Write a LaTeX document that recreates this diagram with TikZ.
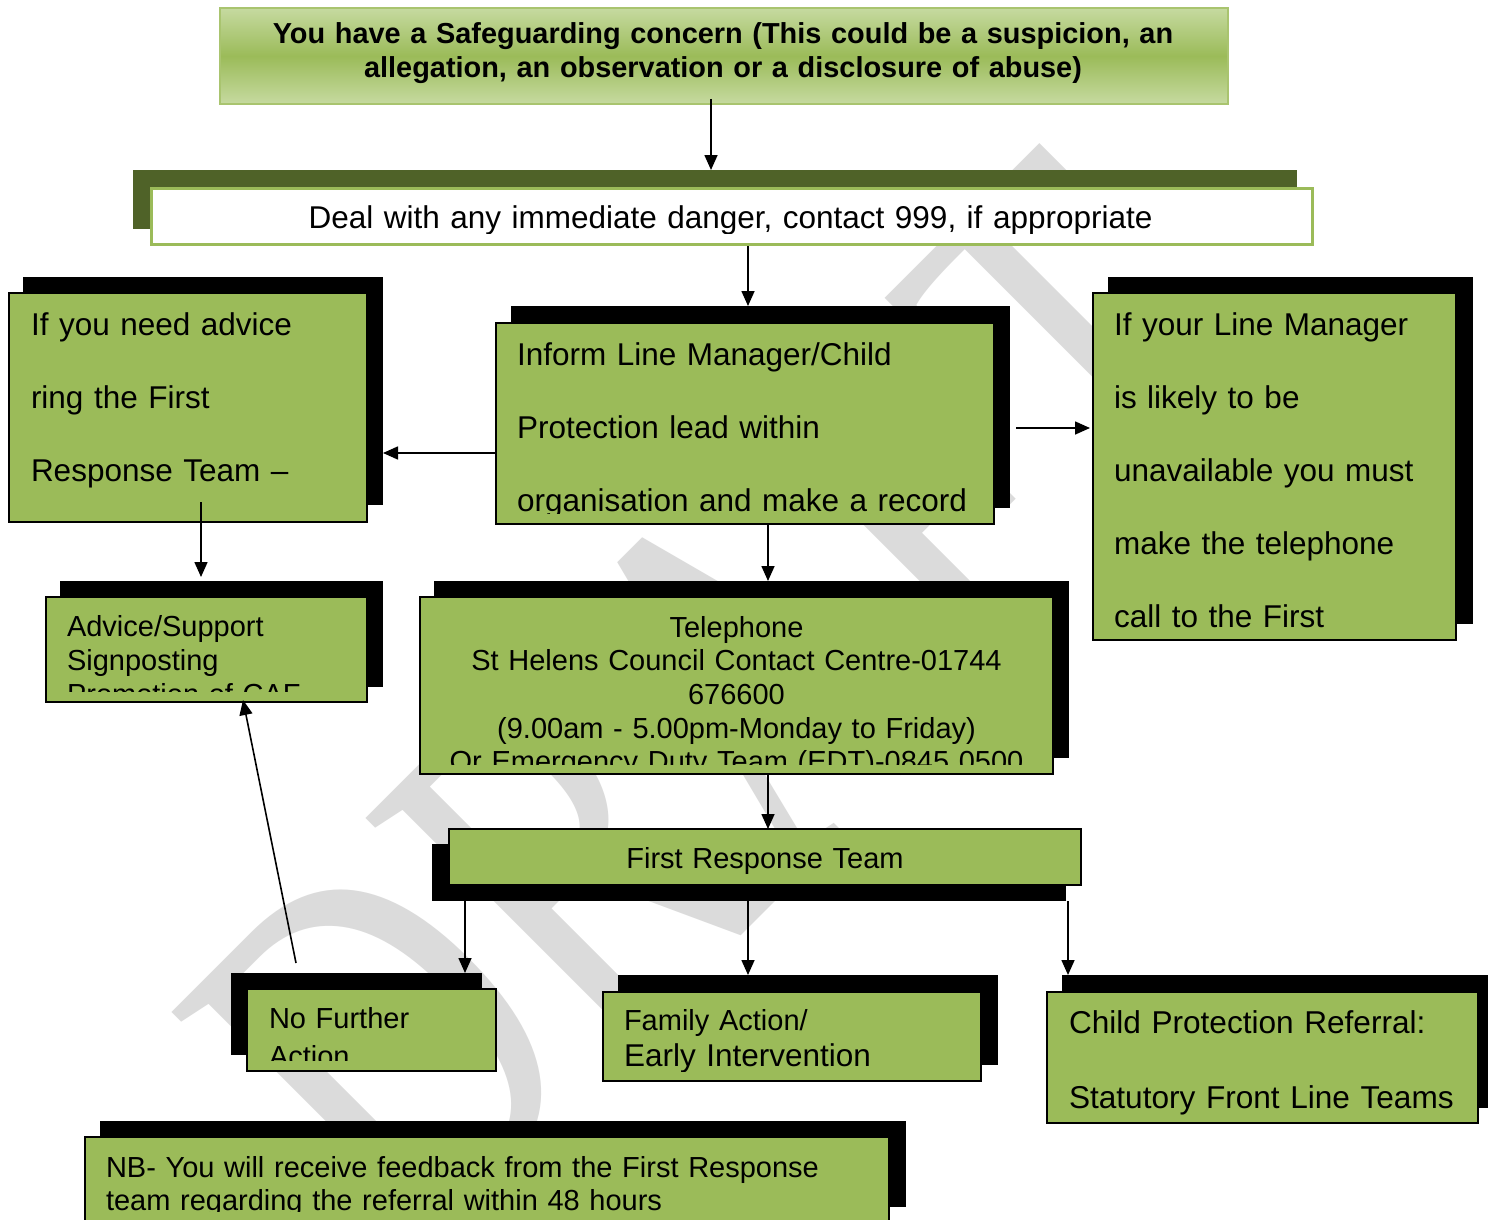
\documentclass[tikz,border=0pt]{standalone}
\usepackage{fontspec}
\setmainfont{Liberation Sans}
\newfontfamily\wmserif{Liberation Serif}
\usetikzlibrary{arrows.meta}
\definecolor{leaf}{HTML}{9BBB59}
\definecolor{leaflight}{HTML}{C6DAA0}
\definecolor{leafedge}{HTML}{A9C46F}
\definecolor{olive}{HTML}{4F6228}
\definecolor{wmgray}{HTML}{DBDBDB}

\tikzset{
  sbox/.style={fill=black, draw=none, anchor=north west, inner sep=0pt, outer sep=0pt},
  gbox/.style={fill=leaf, draw=black, line width=2.5pt, anchor=north west, inner sep=0pt, outer sep=0pt},
  txtl/.style={anchor=base west, inner sep=0pt, outer sep=0pt, align=left},
  txtc/.style={anchor=base, inner sep=0pt, outer sep=0pt, align=center},
  big/.style={font=\fontsize{31.5}{73}\selectfont},
  small/.style={font=\fontsize{29}{33.7}\selectfont},
  arr/.style={-{Triangle[length=15pt,width=13pt]}, line width=1.6pt}
}

\begin{document}
\begin{tikzpicture}[x=1pt,y=-1pt]
\useasboundingbox (0,0) rectangle (1488,1220);
\fill[white] (0,0) rectangle (1488,1220);

% watermark behind everything
\begin{scope}[shift={(727,702)}, rotate=45, transform shape]
  \node[yscale=1.4, text=wmgray, inner sep=0pt,
        font=\wmserif\fontsize{380}{380}\selectfont] (wm) at (0,0) {DRAFT};
\end{scope}

% top concern box
\node[anchor=north west, inner sep=0pt, minimum width=1008pt, minimum height=96pt,
      draw=leafedge, line width=2pt, top color=leaflight, bottom color=leaflight,
      middle color=leaf] (concern) at (219,7) {};
\node[txtc, text width=1008pt, font=\bfseries\fontsize{28.9}{34}\selectfont] (concernTxt) at (723,44)
  {You have a Safeguarding concern (This could be a suspicion, an\\allegation, an observation or a disclosure of abuse)};

% immediate danger banner
\node[anchor=north west, inner sep=0pt, fill=olive, minimum width=1164pt, minimum height=59pt] (dealS) at (133,170) {};
\node[anchor=north west, inner sep=0pt, fill=white, draw=leaf, line width=3pt,
      minimum width=1161pt, minimum height=56pt] (deal) at (150,187) {};
\begin{scope}
  \clip (150,187) rectangle (1311,233);
  \node[txtc, text width=1161pt, font=\fontsize{31.5}{36}\selectfont] (dealTxt) at (730.5,228)
    {Deal with any immediate danger, contact 999, if appropriate};
\end{scope}

% advice line (left)
\node[sbox, minimum width=360pt, minimum height=228pt] (leftS) at (23,277) {};
\node[gbox, minimum width=358pt, minimum height=229pt] (left) at (9,293) {};
\begin{scope}
  \clip (9,293) rectangle (367,514);
  \node[txtl, big, text width=330pt] (leftTxt) at (31,335)
    {If you need advice\\ring the First\\Response Team --};
\end{scope}

% inform line manager (centre)
\node[sbox, minimum width=499pt, minimum height=202pt] (informS) at (511,306) {};
\node[gbox, minimum width=498pt, minimum height=201pt] (inform) at (496,323) {};
\begin{scope}
  \clip (496,323) rectangle (994,513.5);
  \node[txtl, big, text width=470pt] (informTxt) at (517,365)
    {Inform Line Manager/Child\\Protection lead within\\organisation and make a record};
\end{scope}

% line manager unavailable (right)
\node[sbox, minimum width=365pt, minimum height=347pt] (rightS) at (1108,277) {};
\node[gbox, minimum width=363pt, minimum height=347pt] (right) at (1093,293) {};
\begin{scope}
  \clip (1093,293) rectangle (1456,633);
  \node[txtl, big, text width=340pt] (rightTxt) at (1114,335)
    {If your Line Manager\\is likely to be\\unavailable you must\\make the telephone\\call to the First};
\end{scope}

% advice / support
\node[sbox, minimum width=323pt, minimum height=106pt] (adviceS) at (60,581) {};
\node[gbox, minimum width=321pt, minimum height=105pt] (advice) at (46,597) {};
\begin{scope}
  \clip (46,597) rectangle (367,691);
  \node[txtl, font=\fontsize{29}{34}\selectfont, text width=295pt] (adviceTxt) at (67,636)
    {Advice/Support\\Signposting\\Promotion of CAF};
\end{scope}

% telephone numbers
\node[sbox, minimum width=635pt, minimum height=177pt] (telS) at (434,581) {};
\node[gbox, minimum width=633pt, minimum height=177pt] (tel) at (420,597) {};
\begin{scope}
  \clip (420,597) rectangle (1053,764);
  \node[txtc, small, text width=633pt] (telTxt) at (736.5,637)
    {Telephone\\St Helens Council Contact Centre-01744\\676600\\(9.00am - 5.00pm-Monday to Friday)\\Or Emergency Duty Team (EDT)-0845 0500};
\end{scope}

% first response team
\node[sbox, minimum width=634pt, minimum height=57pt] (frtS) at (432,844) {};
\node[gbox, minimum width=632pt, minimum height=56pt] (frt) at (449,829) {};
\node[txtc, small, text width=632pt] (frtTxt) at (765,868) {First Response Team};

% no further action
\node[sbox, minimum width=251pt, minimum height=82pt] (nfaS) at (231,973) {};
\node[gbox, minimum width=249pt, minimum height=82pt] (nfa) at (247,989) {};
\begin{scope}
  \clip (247,989) rectangle (496,1060);
  \node[txtl, font=\fontsize{29}{38}\selectfont, text width=220pt] (nfaTxt) at (269,1028)
    {No Further\\Action};
\end{scope}

% family action
\node[sbox, minimum width=380pt, minimum height=90pt] (famS) at (618,975) {};
\node[gbox, minimum width=378pt, minimum height=89pt] (fam) at (603,992) {};
\begin{scope}
  \clip (603,992) rectangle (981,1071);
  \node[txtl, font=\fontsize{29}{34}\selectfont, text width=350pt] (famTxtA) at (624,1030)
    {Family Action/};
  \node[txtl, font=\fontsize{31.5}{36}\selectfont, text width=350pt] (famTxtB) at (624,1066)
    {Early Intervention};
\end{scope}

% child protection referral
\node[sbox, minimum width=426pt, minimum height=133pt] (cprS) at (1062,975) {};
\node[gbox, minimum width=431pt, minimum height=131pt] (cpr) at (1047,992) {};
\node[txtl, font=\fontsize{31.6}{75}\selectfont, text width=405pt] (cprTxt) at (1069,1033)
  {Child Protection Referral:\\Statutory Front Line Teams};

% feedback note
\node[sbox, minimum width=806pt, minimum height=86pt] (nbS) at (100,1121) {};
\node[gbox, minimum width=804pt, minimum height=100pt] (nb) at (85,1137) {};
\begin{scope}
  \clip (85,1137) rectangle (889,1211);
  \node[txtl, font=\fontsize{29}{33}\selectfont, text width=780pt] (nbTxt) at (106,1177)
    {NB- You will receive feedback from the First Response\\team regarding the referral within 48 hours};
\end{scope}

% connectors
\coordinate (c1) at ([xshift=-13pt,yshift=6pt]concern.south);
\draw[arr] (c1) -- (c1 |- dealS.north);
\coordinate (c2) at ([xshift=3pt]inform.north);
\draw[arr] (c2 |- deal.south) -- (c2 |- informS.north);
\coordinate (c3) at ([yshift=-29.5pt]inform.west);
\draw[arr] (c3) -- (c3 -| leftS.east);
\coordinate (c4) at ([xshift=6pt,yshift=-21pt]informS.east);
\draw[arr] (c4) -- ([xshift=-3pt]c4 -| right.west);
\coordinate (c5) at ([xshift=13pt,yshift=20pt]left.south);
\draw[arr] (c5) -- ([yshift=4pt]c5 |- adviceS.north);
\coordinate (c6) at ([xshift=23pt]inform.south);
\draw[arr] (c6) -- (c6 |- telS.north);
\coordinate (c7) at ([xshift=31.5pt]tel.south);
\draw[arr] (c7) -- (c7 |- frt.north);
\coordinate (c8) at ([xshift=-17pt]nfaS.north east);
\draw[arr] (c8 |- frtS.south) -- (c8);
\coordinate (c9) at ([xshift=130pt]famS.north west);
\draw[arr] (c9 |- frtS.south) -- (c9);
\coordinate (c10) at ([xshift=6pt]cprS.north west);
\draw[arr] (c10 |- frtS.south) -- (c10);
\coordinate (c11) at ([xshift=65pt,yshift=10pt]nfaS.north west);
\draw[arr] (c11) -- ([xshift=36.5pt,yshift=2pt]advice.south);
\end{tikzpicture}
\end{document}
